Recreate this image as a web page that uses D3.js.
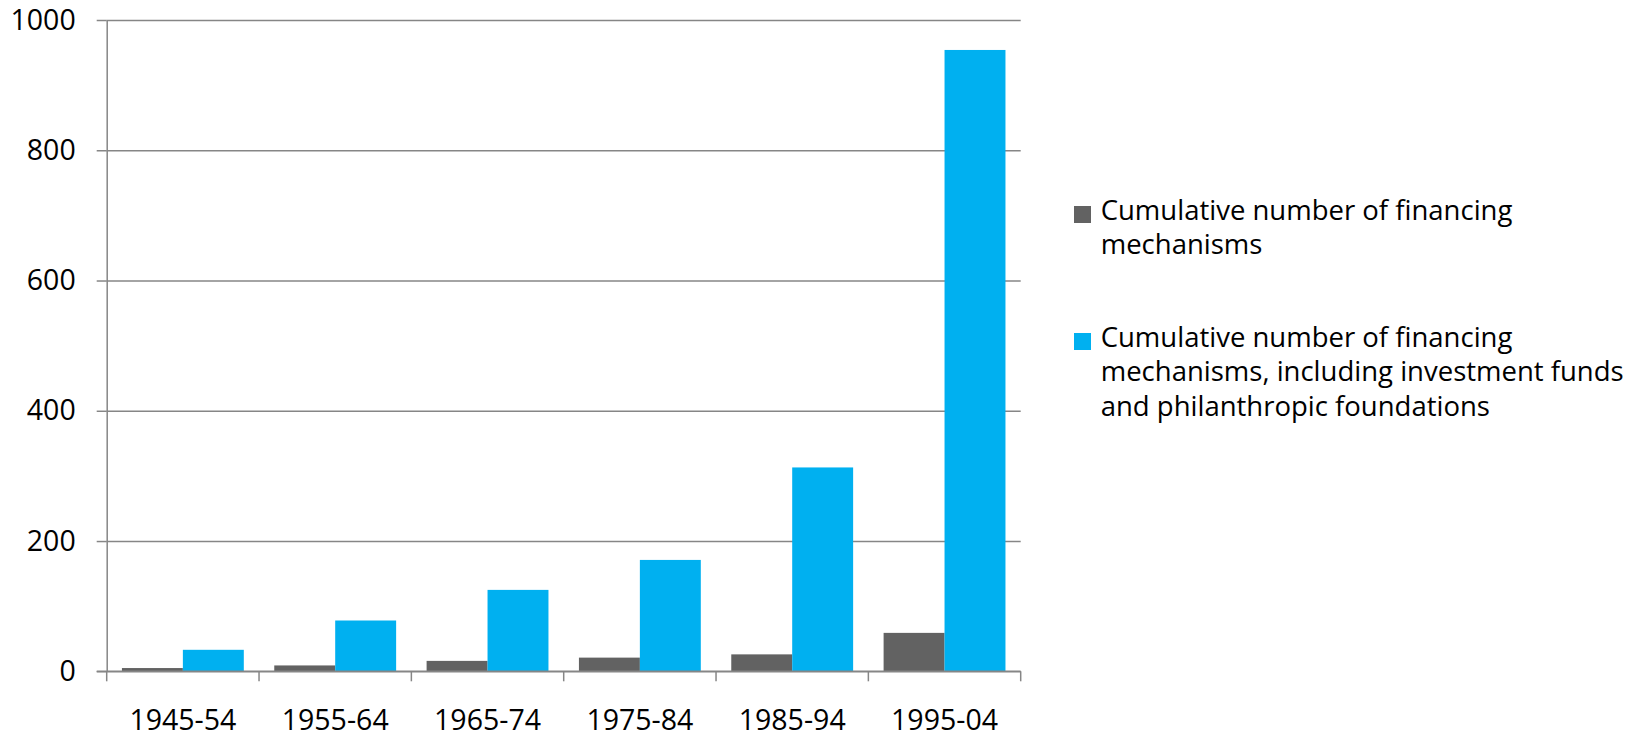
<!DOCTYPE html>
<html lang="en">
<head>
    <meta charset="UTF-8">
    <title>Cumulative number of financing mechanisms</title>
    <script src="https://d3js.org/d3.v7.min.js"></script>
    <style>
        body {
            margin: 0;
            background-color: #fff;
            font-family: "Open Sans", sans-serif;
        }
        .axis text {
            font-size: 28.5px;
            fill: #000;
            font-family: "Open Sans", sans-serif;
        }
        .legend text {
            font-size: 27.5px;
            fill: #000;
        }
    </style>
</head>
<body>
    <svg width="1647" height="737"></svg>

    <script>
        const categories = ["1945-54", "1955-64", "1965-74", "1975-84", "1985-94", "1995-04"];
        const mechanisms = [5, 9, 16, 21, 26, 59];
        const withFunds = [33, 78, 125, 171, 313, 954];
        const yTicks = [0, 200, 400, 600, 800, 1000];
        const seriesColors = ["#626262", "#00b0f0"];
        const legendLines = [
            ["Cumulative number of financing", "mechanisms"],
            ["Cumulative number of financing", "mechanisms, including investment funds", "and philanthropic foundations"]
        ];

        const series = [mechanisms, withFunds];
        const axisColor = "#868686";

        const svg = d3.select("svg"),
              margin = { top: 20, left: 106.7 },
              width = 914,
              height = 651.3,
              g = svg.append("g").attr("transform", `translate(${margin.left},${margin.top})`);

        const x0 = d3.scaleBand()
                     .domain(categories)
                     .range([0, width])
                     .paddingInner(0.2)
                     .paddingOuter(0.1);

        const x1 = d3.scaleBand()
                     .domain(d3.range(series.length))
                     .range([0, x0.bandwidth()]);

        const y = d3.scaleLinear()
                    .domain([0, 1000])
                    .range([height, 0]);

        // gridlines
        g.append("g")
            .call(d3.axisLeft(y).tickValues(yTicks).tickSize(-width).tickFormat(""))
            .call(a => a.select(".domain").remove())
            .selectAll("line")
            .attr("stroke", axisColor)
            .attr("stroke-width", 1.5);

        // y axis with outside ticks
        g.append("g")
            .attr("class", "axis")
            .call(d3.axisLeft(y).tickValues(yTicks).tickFormat(d3.format("d"))
                .tickSizeInner(10).tickSizeOuter(0).tickPadding(21))
            .call(a => a.select(".domain").attr("stroke", axisColor).attr("stroke-width", 1.5))
            .call(a => a.selectAll(".tick line").attr("stroke", axisColor).attr("stroke-width", 1.5));

        // bars
        const groups = g.selectAll(".group")
            .data(categories)
            .enter().append("g")
            .attr("class", "group")
            .attr("transform", d => `translate(${x0(d)},0)`);

        groups.selectAll("rect")
            .data((d, i) => series.map((s, k) => ({ k: k, v: s[i] })))
            .enter().append("rect")
            .attr("x", d => x1(d.k))
            .attr("y", d => y(d.v))
            .attr("width", x1.bandwidth())
            .attr("height", d => height - y(d.v))
            .attr("fill", d => seriesColors[d.k]);

        // x axis: line and ticks between categories
        const bounds = categories.map(c => x0(c) - x0.step() * x0.paddingInner() / 2).concat([width]);

        g.append("line")
            .attr("x1", -10).attr("x2", width)
            .attr("y1", height).attr("y2", height)
            .attr("stroke", axisColor)
            .attr("stroke-width", 1.5);

        g.selectAll(".xtick")
            .data(bounds)
            .enter().append("line")
            .attr("class", "xtick")
            .attr("x1", d => d).attr("x2", d => d)
            .attr("y1", height).attr("y2", height + 10)
            .attr("stroke", axisColor)
            .attr("stroke-width", 1.5);

        g.append("g")
            .attr("class", "axis")
            .attr("transform", `translate(0,${height})`)
            .call(d3.axisBottom(x0).tickSize(0).tickPadding(38))
            .call(a => a.select(".domain").remove());

        // legend
        const legend = svg.append("g").attr("class", "legend");
        const lineHeight = 34.5;
        const firstBaselines = [219.5, 346.5];

        legendLines.forEach((lines, k) => {
            const item = legend.append("g");
            item.append("rect")
                .attr("x", 1074)
                .attr("y", firstBaselines[k] - 13.5)
                .attr("width", 17)
                .attr("height", 17)
                .attr("fill", seriesColors[k]);
            item.append("text")
                .selectAll("tspan")
                .data(lines)
                .enter().append("tspan")
                .attr("x", 1100.7)
                .attr("y", (d, j) => firstBaselines[k] + j * lineHeight)
                .text(d => d);
        });
    </script>
</body>
</html>
